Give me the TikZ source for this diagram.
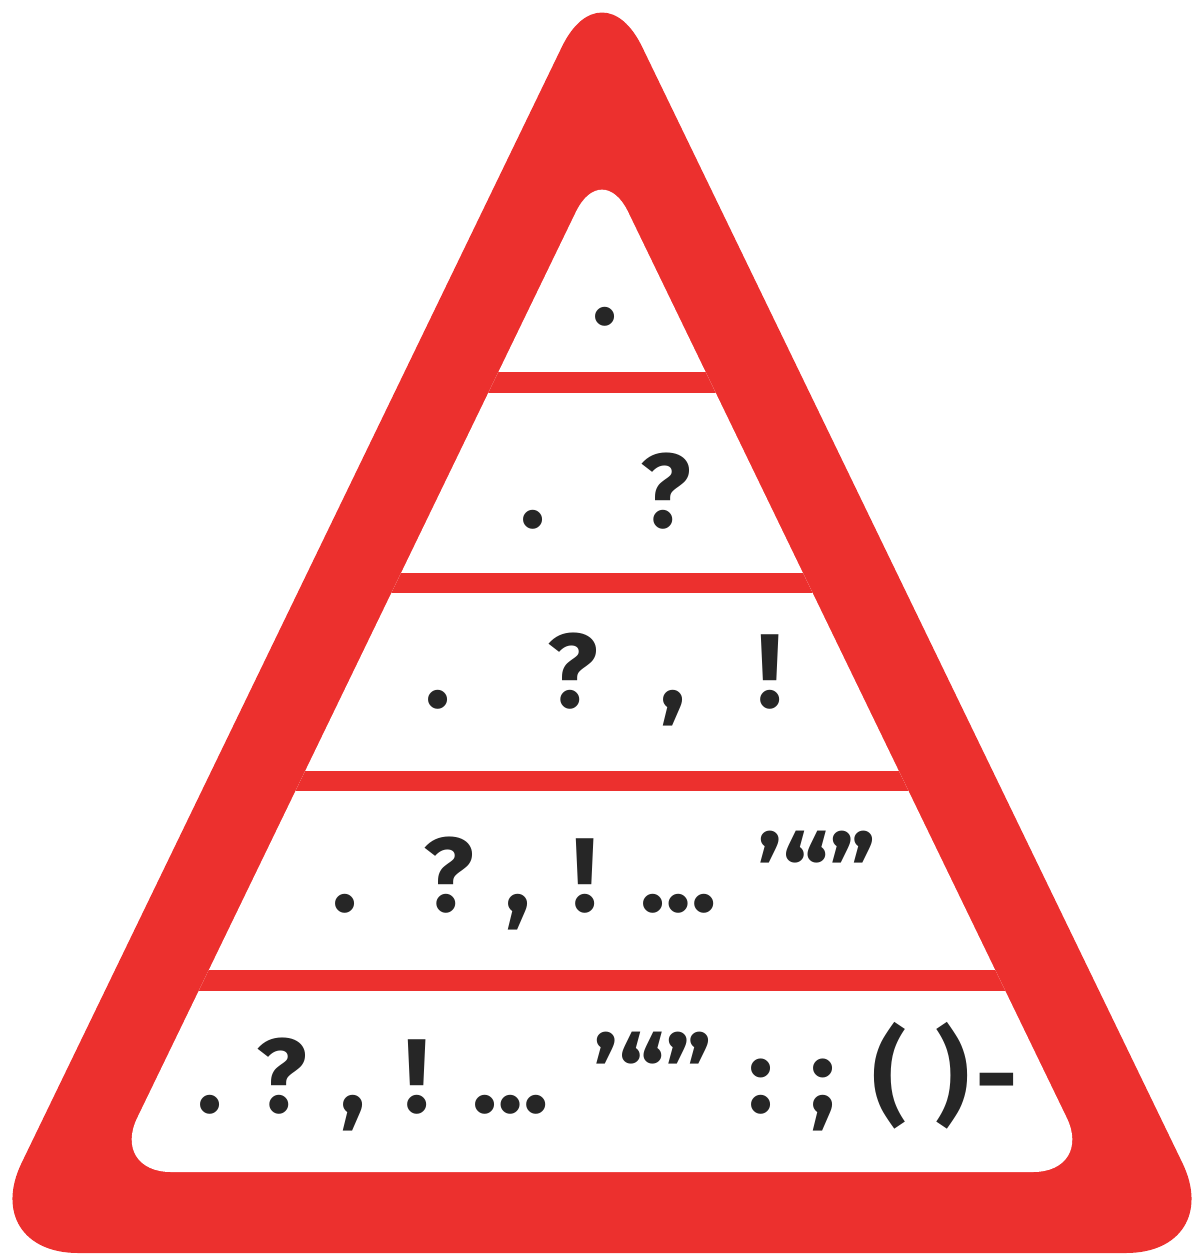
\documentclass[tikz,border=0pt]{standalone}
\usepackage{fontspec}
\setmainfont{Fira Sans}
\definecolor{signred}{RGB}{236,48,46}
\definecolor{ink}{RGB}{38,38,38}
\begin{document}
\begin{tikzpicture}[x=0.5pt,y=-0.5pt,
  glyph/.style={anchor=base,inner sep=0pt,text=ink,font=\fontsize{52.5}{52.5}\selectfont\bfseries}]
\useasboundingbox (0,0) rectangle (1191,1255);
% outer red triangle
\fill[signred] (602,1253) [rounded corners=50pt] -- (-22,1253) [rounded corners=46pt] -- (602,-36) [rounded corners=50pt] -- (1226,1253) -- cycle;
% inner white triangle with separating bars
\begin{scope}
\clip (602,1172) [rounded corners=30pt] -- (111,1172) -- (602,158) -- (1093,1172) -- cycle;
\fill[white] (0,0) rectangle (1191,1255);
\fill[signred] (0,372) rectangle (1191,393);
\fill[signred] (0,573) rectangle (1191,593);
\fill[signred] (0,771) rectangle (1191,791);
\fill[signred] (0,970) rectangle (1191,991);
\end{scope}
% row 1
\node[glyph] (r1a) at (605,324) {.};
% row 2
\node[glyph] (r2a) at (533,527) {.};
\node[glyph] (r2b) at (666,527) {?};
% row 3
\node[glyph] (r3a) at (438,707) {.};
\node[glyph] (r3b) at (573,707) {?};
\node[glyph] (r3c) at (673,707) {,};
\node[glyph] (r3d) at (770,707) {!};
% row 4
\node[glyph] (r4a) at (345,911) {.};
\node[glyph] (r4b) at (449,911) {?};
\node[glyph] (r4c) at (518,911) {,};
\node[glyph] (r4d) at (585,911) {!};
\node[glyph] (r4e) at (679,911) {…};
\node[glyph] (r4f) at (817,911) {’“”};
% row 5
\node[glyph] (r5a) at (210,1112) {.};
\node[glyph] (r5b) at (282,1112) {?};
\node[glyph] (r5c) at (353,1112) {,};
\node[glyph] (r5d) at (417,1112) {!};
\node[glyph] (r5e) at (511,1112) {…};
\node[glyph] (r5f) at (653,1112) {’“”};
\node[glyph] (r5g) at (761,1112) {:};
\node[glyph] (r5h) at (823,1112) {;};
\node[glyph] (r5i) at (890,1112) {(};
\node[glyph] (r5j) at (953,1112) {)};
\node[glyph] (r5k) at (997,1112) {-};
\end{tikzpicture}
\end{document}
